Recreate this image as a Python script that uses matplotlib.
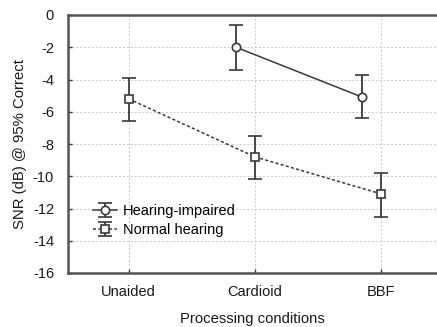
import numpy as np
import matplotlib.pyplot as plt

plt.rcParams['font.family'] = ['Liberation Sans', 'DejaVu Sans']
plt.rcParams['axes.unicode_minus'] = False

# data
conditions = ['Unaided', 'Cardioid', 'BBF']
hi_idx = [1, 2]
hi_mean = [-2.0, -5.1]
hi_upper = [-0.6, -3.7]
hi_lower = [-3.4, -6.4]
nh_idx = [0, 1, 2]
nh_mean = [-5.2, -8.8, -11.1]
nh_upper = [-3.9, -7.5, -9.8]
nh_lower = [-6.6, -10.2, -12.5]
y_ticks = [0, -2, -4, -6, -8, -10, -12, -14, -16]

col = '#3a3a3a'
txt = '#1a1a1a'

fig = plt.figure(figsize=(4.37, 3.27), dpi=100)
ax = fig.add_axes([68 / 437, 1 - 273 / 327, 1 - 68 / 437, 258 / 327])

# impaired group is drawn slightly left of the category
hi_x = np.array(hi_idx) - 0.15
hi_err = [np.array(hi_mean) - np.array(hi_lower), np.array(hi_upper) - np.array(hi_mean)]
nh_err = [np.array(nh_mean) - np.array(nh_lower), np.array(nh_upper) - np.array(nh_mean)]

ax.errorbar(hi_x, hi_mean, yerr=hi_err, color=col, linestyle='-', linewidth=1.1,
            marker='o', markersize=6, markerfacecolor='white', markeredgecolor=col,
            markeredgewidth=1.2, capsize=5, elinewidth=1.3, capthick=1.3,
            label='Hearing-impaired', zorder=3)
ax.errorbar(nh_idx, nh_mean, yerr=nh_err, color=col, linestyle=(0, (2, 1.5)), linewidth=1.1,
            marker='s', markersize=6, markerfacecolor='white', markeredgecolor=col,
            markeredgewidth=1.2, capsize=5, elinewidth=1.3, capthick=1.3,
            label='Normal hearing', zorder=3)

ax.set_xlim(-0.48, 2.44)
ax.set_ylim(-16, 0)
ax.set_xticks(range(len(conditions)))
ax.set_xticklabels(conditions)
ax.set_yticks(y_ticks)
ax.grid(True, color='#c8c8c8', linestyle=(0, (2, 2)), linewidth=0.7)

for side in ['left', 'bottom', 'top']:
    ax.spines[side].set_linewidth(1.8)
    ax.spines[side].set_color('#555555')
ax.spines['right'].set_visible(False)
ax.tick_params(direction='in', length=3, width=1, color=col, labelsize=10.5, labelcolor=txt)
ax.tick_params(axis='x', pad=9)
ax.tick_params(axis='y', pad=10)

ax.set_xlabel('Processing conditions', fontsize=10.7, color=txt, labelpad=9)
ax.set_ylabel('SNR (dB) @ 95% Correct', fontsize=10.7, color=txt, labelpad=4)

ax.legend(loc='lower left', bbox_to_anchor=(0.045, 0.105), frameon=False, fontsize=10.5,
          handlelength=1.6, handletextpad=0.4, labelspacing=0.35, borderpad=0.1)

plt.savefig('out.png', dpi=100)
